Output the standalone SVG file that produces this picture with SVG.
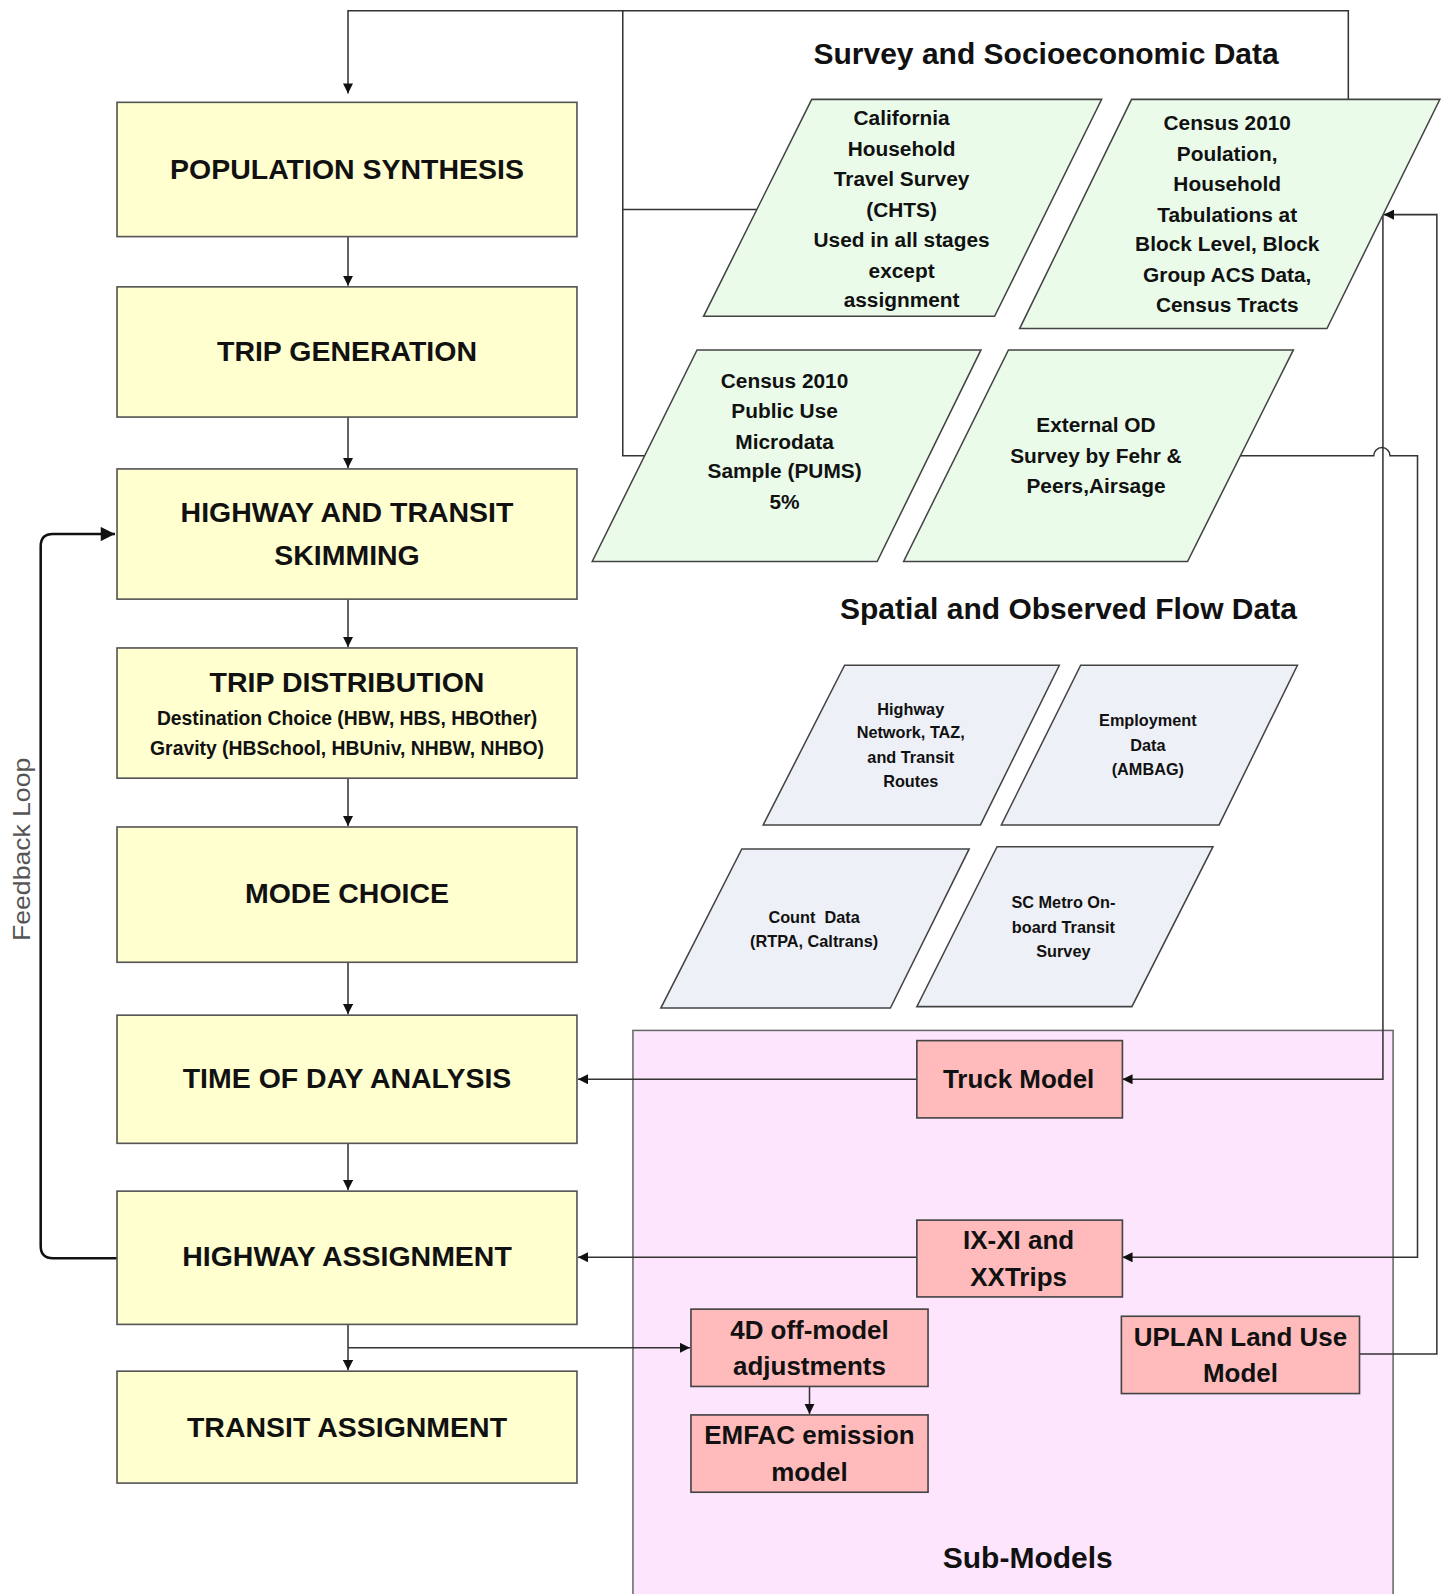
<svg xmlns="http://www.w3.org/2000/svg" width="1445" height="1594" viewBox="0 0 1445 1594">
<defs>
<style>
.step{fill:#FFFFD0;stroke:#555;stroke-width:1.6}
.green{fill:#EAFBEA;stroke:#444;stroke-width:1.5}
.gray{fill:#EDF0F6;stroke:#444;stroke-width:1.5}
.red{fill:#FFBBBB;stroke:#444;stroke-width:1.6}
.cont{fill:#FDE6FD;stroke:#666;stroke-width:1.5}
text{font-family:"Liberation Sans",Arial,sans-serif;fill:#111;text-anchor:middle}
.big{font-size:28px;font-weight:bold}
.sub{font-size:19px;font-weight:bold}
.gt{font-size:20.5px;font-weight:bold}
.st{font-size:16px;font-weight:bold}
.rt{font-size:25.5px;font-weight:bold}
.ttl{font-size:29.5px;font-weight:bold}
.fb{font-size:23px;fill:#555}
.ln{fill:none;stroke:#333;stroke-width:1.5}
.ln2{fill:none;stroke:#111;stroke-width:2.5}
</style>
<marker id="ah" viewBox="0 0 10 10" refX="10" refY="5" markerWidth="10" markerHeight="10" markerUnits="userSpaceOnUse" orient="auto">
<path d="M0,0 L10,5 L0,10 z" fill="#111"/>
</marker>
<marker id="ahb" viewBox="0 0 10 10" refX="10" refY="5" markerWidth="16" markerHeight="14" markerUnits="userSpaceOnUse" orient="auto">
<path d="M0,0 L10,5 L0,10 z" fill="#111"/>
</marker>
</defs>
<rect width="1445" height="1594" fill="#fff"/>
<g transform="scale(1.0176,1.0172)">

<g id="submodels">
<rect class="cont" x="622" y="1013" width="747" height="600"/>
<text class="ttl" x="1010" y="1541">Sub-Models</text>
</g>

<g id="titles">
<text class="ttl" x="1028" y="63">Survey and Socioeconomic Data</text>
<text class="ttl" x="1050" y="609">Spatial and Observed Flow Data</text>
</g>

<g id="connectors">
<path class="ln" d="M1325,98 V10.5 H342 V92" marker-end="url(#ah)"/>
<path class="ln" d="M612,10.5 V448 H634"/>
<path class="ln" d="M612,206 H744"/>
<path class="ln" d="M342,233 V281" marker-end="url(#ah)"/>
<path class="ln" d="M342,410 V460" marker-end="url(#ah)"/>
<path class="ln" d="M342,589 V636" marker-end="url(#ah)"/>
<path class="ln" d="M342,765 V812" marker-end="url(#ah)"/>
<path class="ln" d="M342,946 V997" marker-end="url(#ah)"/>
<path class="ln" d="M342,1124 V1170" marker-end="url(#ah)"/>
<path class="ln" d="M342,1302 V1347" marker-end="url(#ah)"/>
<path class="ln" d="M342,1325 H678" marker-end="url(#ah)"/>
<path class="ln" d="M795.5,1363 V1390" marker-end="url(#ah)"/>
<path class="ln2" d="M115,1237 H52 Q40,1237 40,1225 V537 Q40,525 52,525 H113" marker-end="url(#ahb)"/>
<path class="ln" d="M1359,211 V1061 H1103" marker-end="url(#ah)"/>
<path class="ln" d="M901,1061 H568" marker-end="url(#ah)"/>
<path class="ln" d="M1336,1331 H1412 V211 H1360" marker-end="url(#ah)"/>
<path class="ln" d="M1219,448 H1350 A8,8 0 0 1 1366,448 H1393 V1236 H1103" marker-end="url(#ah)"/>
<path class="ln" d="M901,1236 H568" marker-end="url(#ah)"/>
<text class="fb" transform="translate(29,835) rotate(-90)" textLength="180" lengthAdjust="spacingAndGlyphs">Feedback Loop</text>
</g>

<g id="pop-synth">
<rect class="step" x="115" y="100.6" width="452" height="132"/>
<text class="big" x="341" y="176">POPULATION SYNTHESIS</text>
</g>
<g id="trip-gen">
<rect class="step" x="115" y="282" width="452" height="128"/>
<text class="big" x="341" y="355">TRIP GENERATION</text>
</g>
<g id="skimming">
<rect class="step" x="115" y="461" width="452" height="128"/>
<text class="big" x="341" y="513">HIGHWAY AND TRANSIT</text>
<text class="big" x="341" y="555">SKIMMING</text>
</g>
<g id="trip-dist">
<rect class="step" x="115" y="637" width="452" height="128"/>
<text class="big" x="341" y="680">TRIP DISTRIBUTION</text>
<text class="sub" x="341" y="713">Destination Choice (HBW, HBS, HBOther)</text>
<text class="sub" x="341" y="742">Gravity (HBSchool, HBUniv, NHBW, NHBO)</text>
</g>
<g id="mode-choice">
<rect class="step" x="115" y="813" width="452" height="133"/>
<text class="big" x="341" y="888">MODE CHOICE</text>
</g>
<g id="tod">
<rect class="step" x="115" y="998" width="452" height="126"/>
<text class="big" x="341" y="1070">TIME OF DAY ANALYSIS</text>
</g>
<g id="hwy-assign">
<rect class="step" x="115" y="1171" width="452" height="131"/>
<text class="big" x="341" y="1245">HIGHWAY ASSIGNMENT</text>
</g>
<g id="transit-assign">
<rect class="step" x="115" y="1348" width="452" height="110"/>
<text class="big" x="341" y="1413">TRANSIT ASSIGNMENT</text>
</g>

<g id="chts">
<polygon class="green" points="797.7,97.7 1082.6,97.7 977.4,311 691.4,311"/>
<text class="gt" x="886" y="123">California</text>
<text class="gt" x="886" y="153">Household</text>
<text class="gt" x="886" y="183">Travel Survey</text>
<text class="gt" x="886" y="213">(CHTS)</text>
<text class="gt" x="886" y="243">Used in all stages</text>
<text class="gt" x="886" y="273">except</text>
<text class="gt" x="886" y="302">assignment</text>
</g>
<g id="census">
<polygon class="green" points="1112,97.7 1415,97.7 1304,323 1002,323"/>
<text class="gt" x="1206" y="128">Census 2010</text>
<text class="gt" x="1206" y="158">Poulation,</text>
<text class="gt" x="1206" y="188">Household</text>
<text class="gt" x="1206" y="218">Tabulations at</text>
<text class="gt" x="1206" y="247">Block Level, Block</text>
<text class="gt" x="1206" y="277">Group ACS Data,</text>
<text class="gt" x="1206" y="307">Census Tracts</text>
</g>
<g id="pums">
<polygon class="green" points="685,344 964,344 862,552 582,552"/>
<text class="gt" x="771" y="381">Census 2010</text>
<text class="gt" x="771" y="411">Public Use</text>
<text class="gt" x="771" y="441">Microdata</text>
<text class="gt" x="771" y="470">Sample (PUMS)</text>
<text class="gt" x="771" y="500">5%</text>
</g>
<g id="external-od">
<polygon class="green" points="991,344 1271,344 1167,552 888,552"/>
<text class="gt" x="1077" y="425">External OD</text>
<text class="gt" x="1077" y="455">Survey by Fehr &amp;</text>
<text class="gt" x="1077" y="485">Peers,Airsage</text>
</g>

<g id="hwy-network">
<polygon class="gray" points="830,654 1041,654 963.5,811 750,811"/>
<text class="st" x="895" y="703">Highway</text>
<text class="st" x="895" y="726">Network, TAZ,</text>
<text class="st" x="895" y="750">and Transit</text>
<text class="st" x="895" y="774">Routes</text>
</g>
<g id="employment">
<polygon class="gray" points="1062,654 1275,654 1198,811 984,811"/>
<text class="st" x="1128" y="714">Employment</text>
<text class="st" x="1128" y="738">Data</text>
<text class="st" x="1128" y="762">(AMBAG)</text>
</g>
<g id="count-data">
<polygon class="gray" points="729,834.6 952.4,834.6 875,991 649.4,991"/>
<text class="st" x="800" y="907" xml:space="preserve">Count  Data</text>
<text class="st" x="800" y="931">(RTPA, Caltrans)</text>
</g>
<g id="sc-metro">
<polygon class="gray" points="979.8,832.4 1192,832.4 1112.3,989.6 901,989.6"/>
<text class="st" x="1045" y="893">SC Metro On-</text>
<text class="st" x="1045" y="917">board Transit</text>
<text class="st" x="1045" y="941">Survey</text>
</g>

<g id="truck-model">
<rect class="red" x="901" y="1023" width="202" height="76"/>
<text class="rt" x="1001" y="1070">Truck Model</text>
</g>
<g id="ixxi">
<rect class="red" x="901" y="1199.5" width="202" height="75.5"/>
<text class="rt" x="1001" y="1228">IX-XI and</text>
<text class="rt" x="1001" y="1264">XXTrips</text>
</g>
<g id="offmodel-4d">
<rect class="red" x="679" y="1287" width="233" height="76"/>
<text class="rt" x="795.5" y="1316">4D off-model</text>
<text class="rt" x="795.5" y="1352">adjustments</text>
</g>
<g id="emfac">
<rect class="red" x="679" y="1391" width="233" height="76"/>
<text class="rt" x="795.5" y="1420">EMFAC emission</text>
<text class="rt" x="795.5" y="1456">model</text>
</g>
<g id="uplan">
<rect class="red" x="1102" y="1294" width="234" height="76"/>
<text class="rt" x="1219" y="1323">UPLAN Land Use</text>
<text class="rt" x="1219" y="1359">Model</text>
</g>
</g>
</svg>
